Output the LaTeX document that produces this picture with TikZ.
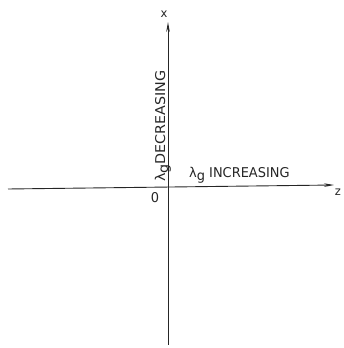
\documentclass[tikz,border=0pt]{standalone}
\usepackage{fontspec}
\newfontfamily\lettering[FakeStretch=0.96]{DejaVu Sans}
\newfontfamily\letteringwide[FakeStretch=1.06]{DejaVu Sans}
\usetikzlibrary{arrows.meta}

\begin{document}
\begin{tikzpicture}[x=1pt,y=1pt]
  \tikzset{axisline/.style={draw=black!85,line width=0.9pt}}
  \tikzset{axisarrow/.style={axisline,-{Stealth[length=10pt,width=3.6pt]}}}
  \tikzset{axislabel/.style={font=\lettering\fontsize{13.5}{13.5}\selectfont,inner sep=0pt,text=black!85}}
  \useasboundingbox (0,0) rectangle (344,348);
  \coordinate (o) at (168,161);
  \coordinate (zl) at (8,159);
  \coordinate (zr) at (334,163);
  \coordinate (xb) at (168,3);
  \coordinate (xt) at (168,326);
  \draw[axisarrow] (zl) -- (zr);
  \draw[axisarrow] (xb) -- (xt);
  \node[axislabel,font=\lettering\fontsize{12}{12}\selectfont] (xlab) at (164,334) {x};
  \node[axislabel,font=\lettering\fontsize{12}{12}\selectfont] (zlab) at (338,156) {z};
  \node[axislabel] (olab) at (155,150) {0};
  \node[axislabel,anchor=base west] (inc) at (189,170) {λ\raisebox{-3pt}{g} INCREASING};
  \node[axislabel,font=\letteringwide\fontsize{13.5}{13.5}\selectfont,rotate=90,anchor=base west] (dec) at (165,166) {λ\raisebox{-3pt}{g}DECREASING};
\end{tikzpicture}
\end{document}
